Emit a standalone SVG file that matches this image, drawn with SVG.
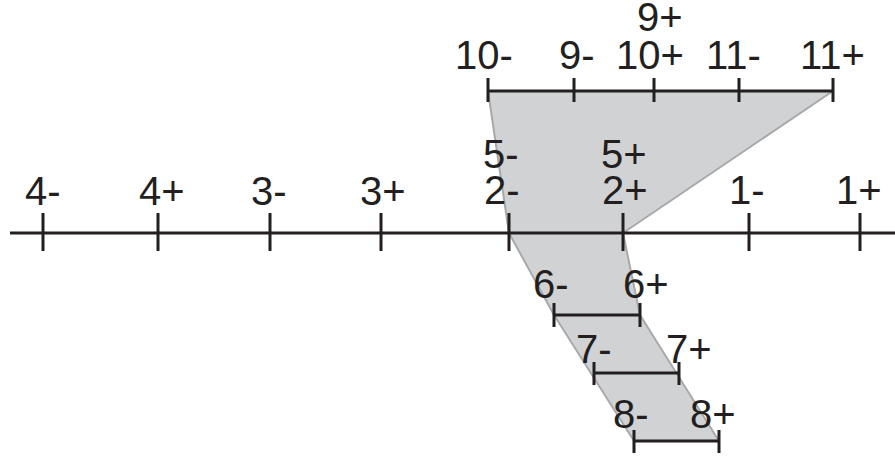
<svg xmlns="http://www.w3.org/2000/svg" width="895" height="456" viewBox="0 0 895 456">
<style>
.ax{stroke:#231f20;stroke-width:3;fill:none}
.lb{font-family:"Liberation Sans",Arial,sans-serif;font-size:40px;fill:#231f20}
</style>
<rect width="895" height="456" fill="#fff"/>
<g id="region">
<polygon points="488,91 833,91 623,233 640,315 719,441 634,441 554,315 509,233" fill="#d1d2d4" stroke="#a7a9ac" stroke-width="2" stroke-linejoin="round"/>
</g>
<g id="connectors">
<path class="ax" d="M10,233H895M43,213V251M158,213V251M270,213V251M381,213V251M509,213V251M623,213V251M749,213V251M860,213V251"/>
<path class="ax" d="M488,91H833M488,78V102M574,78V102M654,78V102M739,78V102M833,78V102"/>
<path class="ax" d="M554,315H640M554,303V327M640,303V327"/>
<path class="ax" d="M594,373H679M594,362V385M679,362V385"/>
<path class="ax" d="M634,441H719M634,430V453M719,430V453"/>
</g>
<g id="labels">
<text class="lb" x="25" y="205">4-</text>
<text class="lb" x="139" y="205">4+</text>
<text class="lb" x="251" y="205">3-</text>
<text class="lb" x="360" y="205">3+</text>
<text class="lb" x="483" y="168">5-</text>
<text class="lb" x="484" y="204">2-</text>
<text class="lb" x="601" y="168">5+</text>
<text class="lb" x="602" y="204">2+</text>
<text class="lb" x="729" y="204">1-</text>
<text class="lb" x="836" y="204">1+</text>
<text class="lb" x="455" y="69">10-</text>
<text class="lb" x="559" y="69">9-</text>
<text class="lb" x="616" y="69">10+</text>
<text class="lb" x="706" y="69">11-</text>
<text class="lb" x="800" y="69">11+</text>
<text class="lb" x="637" y="31">9+</text>
<text class="lb" x="533" y="298">6-</text>
<text class="lb" x="623" y="298">6+</text>
<text class="lb" x="576" y="363">7-</text>
<text class="lb" x="666" y="363">7+</text>
<text class="lb" x="613" y="428">8-</text>
<text class="lb" x="690" y="428">8+</text>
</g>
</svg>
